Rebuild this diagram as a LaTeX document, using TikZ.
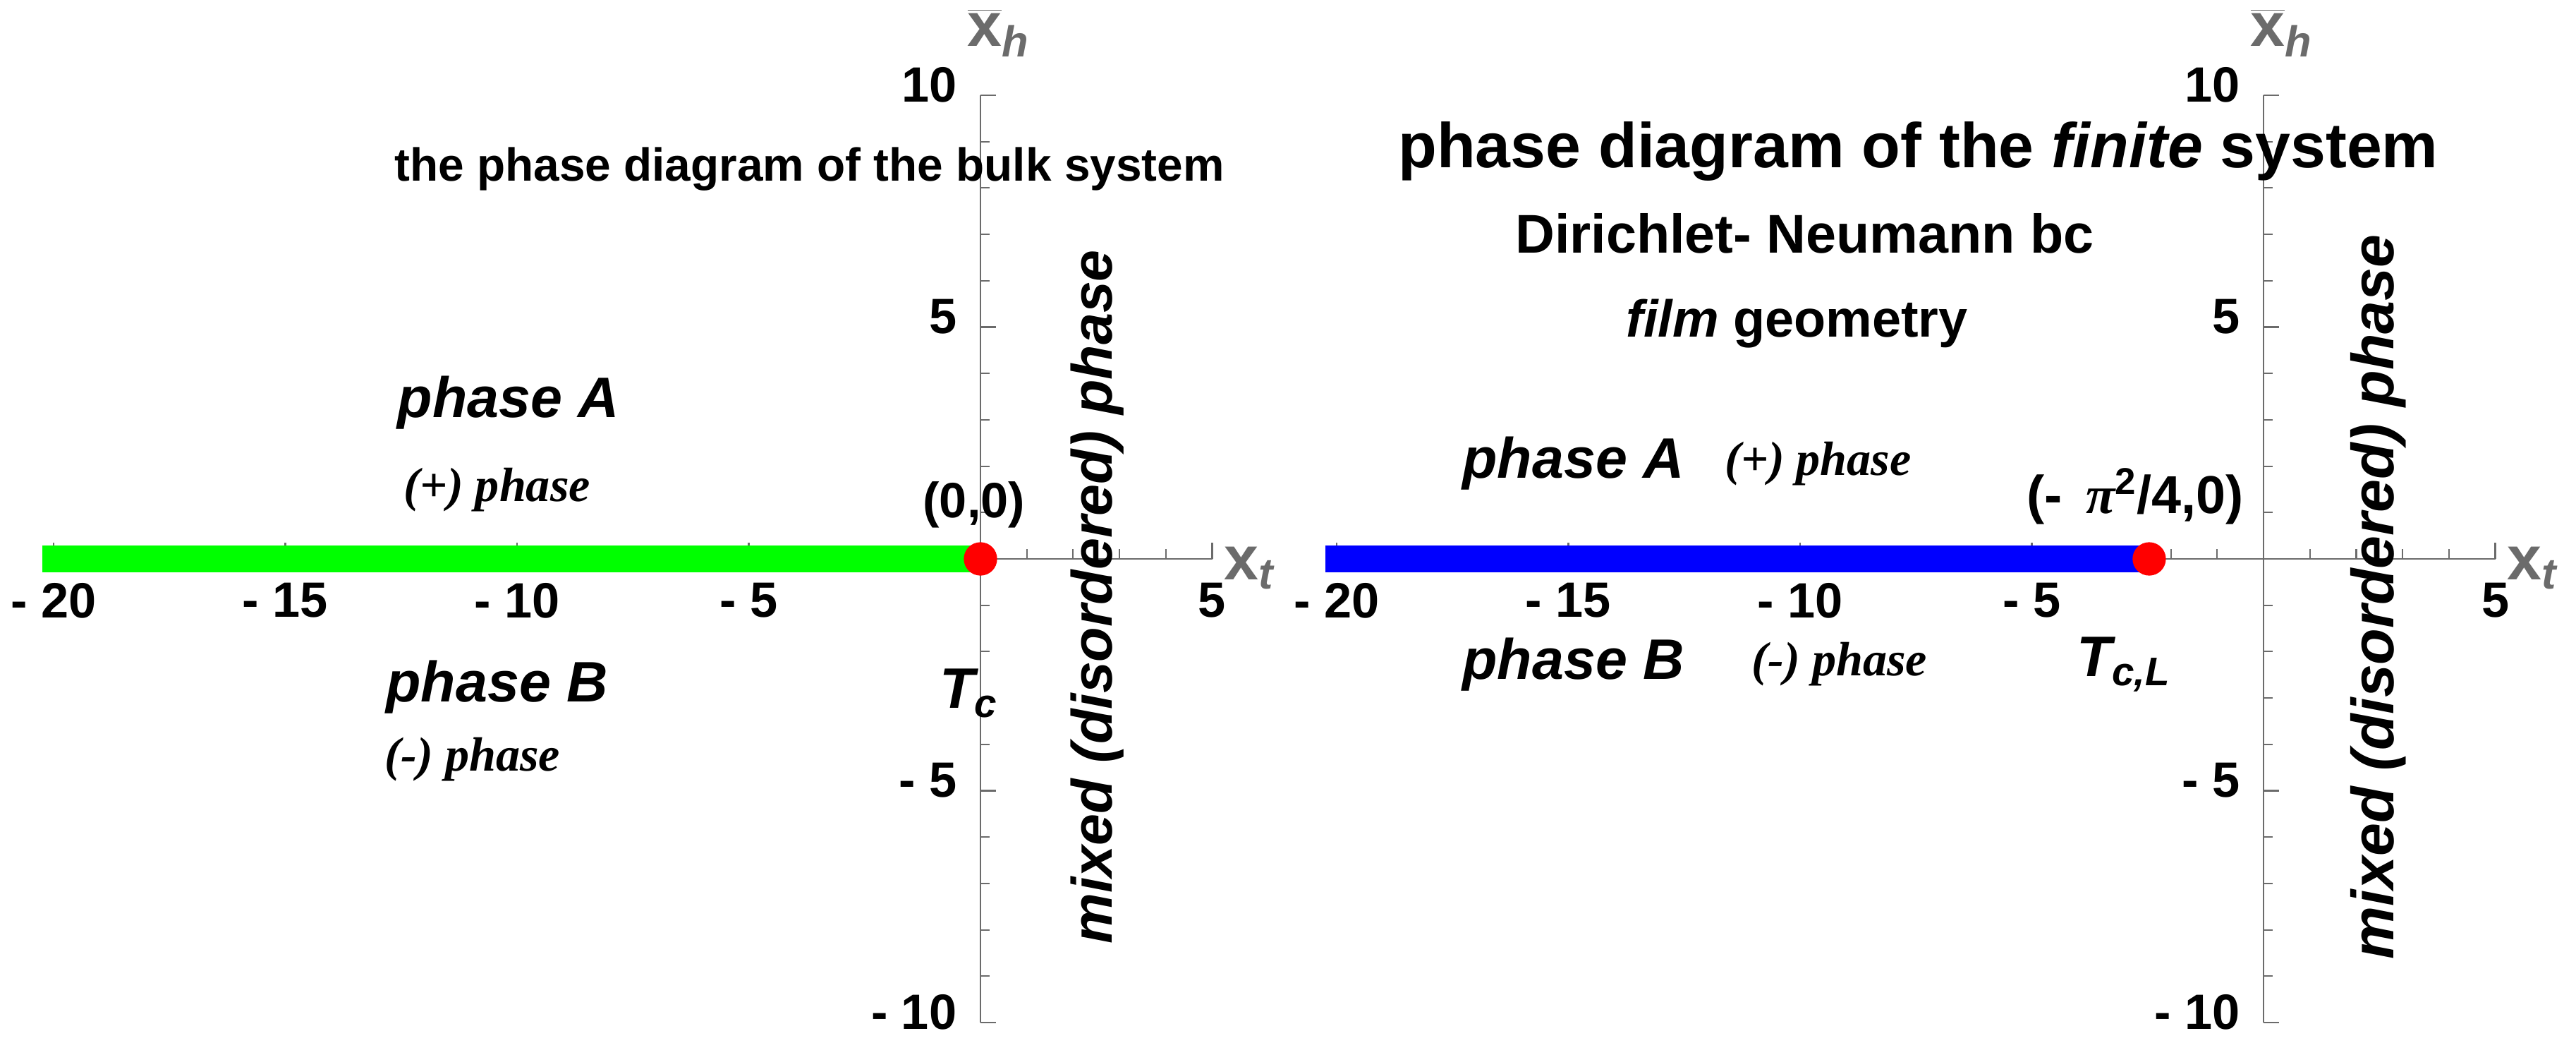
\documentclass[tikz,border=0pt]{standalone}
\usepackage{fontspec}
\setmainfont{Liberation Sans}
\newfontfamily\serifit{Liberation Serif}
\usepackage{tikz}
\usetikzlibrary{calc}

\definecolor{axisgray}{gray}{0.42}
\tikzset{
  axisline/.style={axisgray, line width=0.6pt},
  tickl/.style={font=\fontsize{20}{24}\selectfont\bfseries, inner sep=1pt},
  ttl/.style={font=\fontsize{18.7}{22}\selectfont\bfseries, inner sep=0pt},
  phs/.style={font=\fontsize{23}{26}\selectfont\bfseries\itshape, inner sep=0pt},
  sgn/.style={font=\fontsize{19.4}{22}\selectfont\serifit\bfseries\itshape, inner sep=0pt},
  axl/.style={axisgray, font=\fontsize{25}{28}\selectfont\bfseries, inner sep=0pt},
}

\begin{document}
\begin{tikzpicture}
\useasboundingbox (0,0) rectangle (36.52,14.77);

% bulk system
\begin{scope}[shift={(13.90,6.85)}, x=0.657cm, y=0.657cm]
    % Axes
    \draw[axisline] (-20,0) -- (5,0);
    \draw[axisline] (0,-10) -- (0,10);
    \foreach \i in {-20,...,5} \draw[axisline] (\i,0) -- (\i,0.21);
    \foreach \i in {-20,-15,...,5} \draw[axisline] (\i,0) -- (\i,0.35);
    \foreach \i in {-10,...,10} \draw[axisline] (0,\i) -- (0.2,\i);
    \foreach \i in {-10,-5,5,10} \draw[axisline] (0,\i) -- (0.33,\i);
    \foreach \i/\t in {-20/- 20,-15/- 15,-10/- 10,-5/- 5,5/5}
        \node[tickl] (bx\i) at (\i,-0.9) {\t};
    \foreach \i/\t in {10/10,5/5,-5/- 5,-10/- 10}
        \node[tickl, anchor=east] (by\i) at (-0.45,\i+0.22) {\t};
    \node[axl, anchor=west] (bxt) at (5.25,-0.2) {x\textsubscript{\itshape t}};
    \node[axl] (bxh) at (0.39,11.35) {$\overline{\mbox{x}}$\textsubscript{\itshape h}};

    % Critical line and point
    \draw[green, line width=0.38cm] (-20.25,0) -- (0,0);
    \fill[red] (0,0) circle (0.36);
    \coordinate (bTc) at (0,0);

    % Labels
    \node[ttl] (btitle) at (-3.69,8.40) {the phase diagram of the bulk system};
    \node[phs] (bA) at (-10.18,3.37) {phase A};
    \node[sgn] (bAp) at (-10.43,1.49) {(+) phase};
    \node[phs] (bB) at (-10.43,-2.77) {phase B};
    \node[sgn] (bBm) at (-10.96,-4.33) {(-) phase};
    \node[tickl] (bpt) at (-0.14,1.17) {(0,0)};
    \node[phs] (bTcl) at (-0.25,-2.9) {T\textsubscript{c}};
    \node[phs, rotate=90] (bmix) at (2.52,-0.82) {mixed (disordered) phase};
\end{scope}

% finite system
\begin{scope}[shift={(32.09,6.85)}, x=0.657cm, y=0.657cm]
    % Axes
    \draw[axisline] (-20,0) -- (5,0);
    \draw[axisline] (0,-10) -- (0,10);
    \foreach \i in {-20,...,5} \draw[axisline] (\i,0) -- (\i,0.21);
    \foreach \i in {-20,-15,...,5} \draw[axisline] (\i,0) -- (\i,0.35);
    \foreach \i in {-10,...,10} \draw[axisline] (0,\i) -- (0.2,\i);
    \foreach \i in {-10,-5,5,10} \draw[axisline] (0,\i) -- (0.33,\i);
    \foreach \i/\t in {-20/- 20,-15/- 15,-10/- 10,-5/- 5,5/5}
        \node[tickl] (fx\i) at (\i,-0.9) {\t};
    \foreach \i/\t in {10/10,5/5,-5/- 5,-10/- 10}
        \node[tickl, anchor=east] (fy\i) at (-0.45,\i+0.22) {\t};
    \node[axl, anchor=west] (fxt) at (5.25,-0.2) {x\textsubscript{\itshape t}};
    \node[axl] (fxh) at (0.39,11.35) {$\overline{\mbox{x}}$\textsubscript{\itshape h}};

    % Critical line and shifted point
    \draw[blue, line width=0.38cm] (-20.25,0) -- (-2.467,0);
    \fill[red] (-2.467,0) circle (0.36);
    \coordinate (fTc) at (-2.467,0);

    % Labels
    \node[ttl, font=\fontsize{25.5}{28}\selectfont\bfseries] (ftitle) at (-7.45,8.79) {phase diagram of the \textit{finite} system};
    \node[ttl, font=\fontsize{22}{25}\selectfont\bfseries] (fbc) at (-9.9,7.02) {Dirichlet- Neumann bc};
    \node[ttl, font=\fontsize{21}{24}\selectfont\bfseries] (fgeo) at (-10.07,5.07) {\textit{film} geometry};
    \node[phs] (fA) at (-14.89,2.06) {phase A};
    \node[sgn] (fAp) at (-9.61,2.06) {(+) phase};
    \node[phs] (fB) at (-14.89,-2.27) {phase B};
    \node[sgn] (fBm) at (-9.15,-2.27) {(-) phase};
    \node[tickl, font=\fontsize{21.5}{24}\selectfont\bfseries] (fpt) at (-2.77,1.35) {(- \,{\serifit\itshape π}\textsuperscript{2}/4,0)};
    \node[phs] (fTcl) at (-3.01,-2.27) {T\textsubscript{c,L}};
    \node[phs, font=\fontsize{24}{27}\selectfont\bfseries\itshape, rotate=90] (fmix) at (2.48,-0.82) {mixed (disordered) phase};
\end{scope}
\end{tikzpicture}
\end{document}
